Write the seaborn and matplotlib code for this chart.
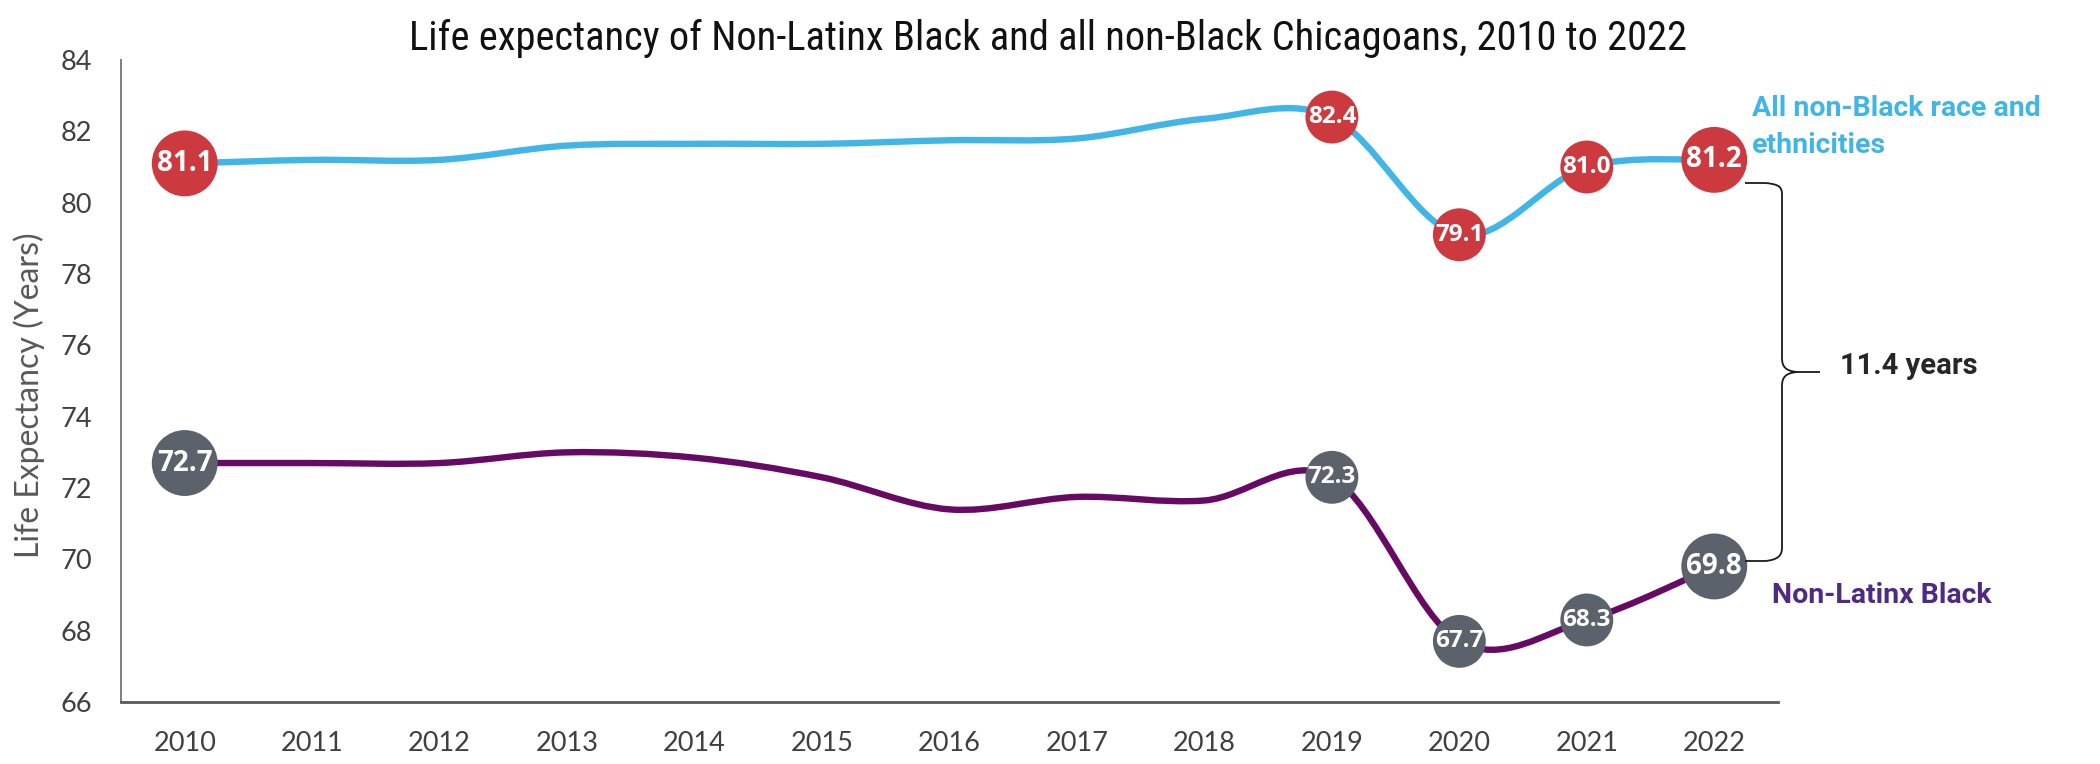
import numpy as np
import pandas as pd
import matplotlib.pyplot as plt
import seaborn as sns
from matplotlib import font_manager
from matplotlib.path import Path
from matplotlib.patches import PathPatch

# data
years = [2010, 2011, 2012, 2013, 2014, 2015, 2016, 2017, 2018, 2019, 2020, 2021, 2022]
non_black = [81.1, 81.2, 81.2, 81.6, 81.65, 81.65, 81.75, 81.8, 82.35, 82.4, 79.1, 81.0, 81.2]
black = [72.7, 72.7, 72.7, 73.0, 72.85, 72.3, 71.4, 71.75, 71.65, 72.3, 67.7, 68.3, 69.8]
labeled_years = [2010, 2019, 2020, 2021, 2022]
y_ticks = [66, 68, 70, 72, 74, 76, 78, 80, 82, 84]

title_text = 'Life expectancy of Non-Latinx Black and all non-Black Chicagoans, 2010 to 2022'
ylabel_text = 'Life Expectancy (Years)'
non_black_label = ['All non-Black race and', 'ethnicities']
black_label = 'Non-Latinx Black'
gap_text = '11.4 years'

BLUE = '#41B6E6'
PURPLE = '#660A63'
RED = '#CC3A40'
GRAY = '#5B626B'

sns.set_style('white')
plt.rcParams['font.family'] = ['Open Sans', 'DejaVu Sans']

W, H = 2100, 764


def fx(px):
    return px / W


def fy(py):
    return 1 - py / H


fig = plt.figure(figsize=(21, 7.64), dpi=100)
ax = fig.add_axes([fx(121), fy(702), fx(1778) - fx(121), fy(60) - fy(702)])


def smooth_path(xs, ys):
    # excel-style smoothed line: cubic bezier through each point
    p = np.column_stack([xs, ys]).astype(float)
    ext = np.vstack([p[0], p, p[-1]])
    verts = [tuple(p[0])]
    codes = [Path.MOVETO]
    for i in range(len(p) - 1):
        a, b, c, d = ext[i], ext[i + 1], ext[i + 2], ext[i + 3]
        c1 = b + (c - a) / 6
        c2 = c - (d - b) / 6
        verts += [tuple(c1), tuple(c2), tuple(c)]
        codes += [Path.CURVE4] * 3
    return Path(verts, codes)


ax.add_patch(PathPatch(smooth_path(years, non_black), fill=False, edgecolor=BLUE,
                       lw=4.6, capstyle='round', zorder=2))
ax.add_patch(PathPatch(smooth_path(years, black), fill=False, edgecolor=PURPLE,
                       lw=4.6, capstyle='round', zorder=2))

# bubbles on the labelled years
df = pd.DataFrame({'year': years, 'non_black': non_black, 'black': black})
pts = df[df['year'].isin(labeled_years)].copy()
pts['kind'] = np.where(pts['year'].isin([years[0], years[-1]]), 'end', 'mid')
size_map = {'end': 2250, 'mid': 1450}

for col, colr in [('non_black', RED), ('black', GRAY)]:
    sns.scatterplot(data=pts, x='year', y=col, size='kind', sizes=size_map,
                    color=colr, linewidth=0, legend=False, ax=ax, zorder=3)
    for _, r in pts.iterrows():
        ax.text(r['year'], r[col], f"{r[col]:.1f}", ha='center', va='center',
                color='white', fontweight='bold',
                fontsize=20 if r['kind'] == 'end' else 17.5, zorder=4)

ax.set_xlim(2009.5, 2022.5)
ax.set_ylim(66, 84)
ax.set_xticks(years)
ax.set_yticks(y_ticks)
ax.set_xlabel('')
ax.set_ylabel('')
ax.tick_params(axis='both', length=0, labelsize=19.5, labelcolor='#404040', pad=21)
for lab in ax.get_xticklabels() + ax.get_yticklabels():
    lab.set_family(['Lato', 'DejaVu Sans'])

sns.despine(ax=ax)
ax.spines['left'].set_color('#7f7f7f')
ax.spines['left'].set_linewidth(1.4)
ax.spines['bottom'].set_color('#595959')
ax.spines['bottom'].set_linewidth(2)

fig.text(fx(29), fy(395), ylabel_text, rotation=90, ha='center', va='center',
         fontsize=23, color='#595959', family=['Lato', 'DejaVu Sans'])

# series labels at the right
label_font = ['Roboto', 'DejaVu Sans']
for line, base in zip(non_black_label, [116, 153]):
    fig.text(fx(1752), fy(base), line, ha='left', va='baseline', fontsize=20.5,
             fontweight='bold', color=BLUE, family=label_font)
fig.text(fx(1772), fy(603), black_label, ha='left', va='baseline', fontsize=20.5,
         fontweight='bold', color='#4E2A84', family=label_font)
fig.text(fx(1840), fy(374), gap_text, ha='left', va='baseline', fontsize=21,
         fontweight='bold', color='#262626', family=label_font)

# curly bracket for the gap
bx = [(1745, 183), (1765, 183), (1777, 184), (1782, 186), (1782, 194), (1782, 358),
      (1782, 367), (1786, 371), (1797, 372), (1820, 372),
      (1797, 372), (1786, 373), (1782, 377), (1782, 386), (1782, 548),
      (1782, 556), (1777, 560), (1765, 561), (1745, 561)]
bcodes = [Path.MOVETO, Path.LINETO, Path.CURVE4, Path.CURVE4, Path.CURVE4, Path.LINETO,
          Path.CURVE4, Path.CURVE4, Path.CURVE4, Path.LINETO,
          Path.MOVETO, Path.CURVE4, Path.CURVE4, Path.CURVE4, Path.LINETO,
          Path.CURVE4, Path.CURVE4, Path.CURVE4, Path.LINETO]
bpath = Path([(fx(x), fy(y)) for x, y in bx], bcodes)
fig.add_artist(PathPatch(bpath, fill=False, edgecolor='#1a1a1a', lw=1.3,
                         transform=fig.transFigure))

# title, in the narrowest family we have, fitted to the reference width
names = {f.name for f in font_manager.fontManager.ttflist}
title_font = 'Roboto'
for cand in ['Liberation Sans Narrow', 'DejaVu Sans Condensed', 'Roboto Condensed']:
    if cand in names:
        title_font = cand
        break
title = fig.text(fx(1048), fy(50), title_text, ha='center', va='baseline',
                 fontsize=30, color='#111111', family=[title_font, 'DejaVu Sans'])
fig.canvas.draw()
w = title.get_window_extent().width
title.set_fontsize(30 * 1281 / w)

fig.savefig('out.png', dpi=100)
